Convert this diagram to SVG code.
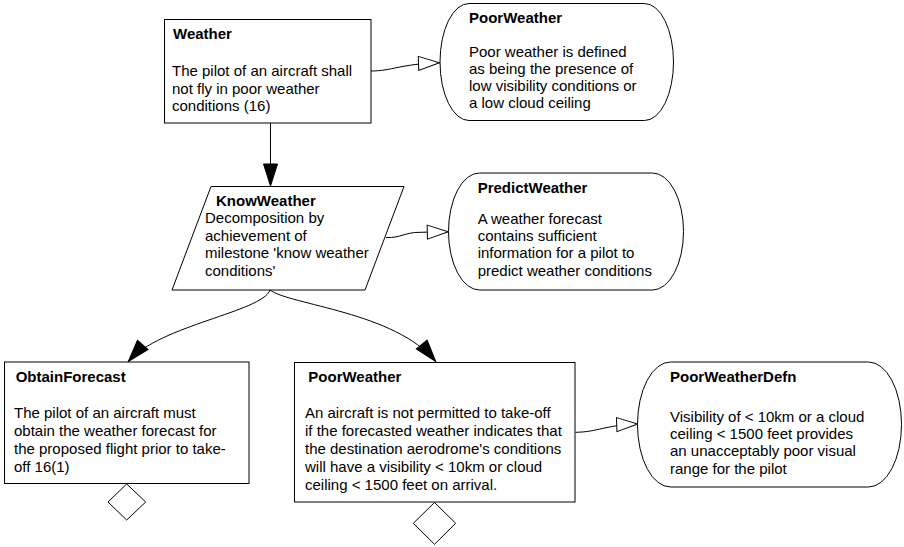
<svg xmlns="http://www.w3.org/2000/svg" width="904" height="547" viewBox="0 0 904 547">
  <style>
    .shape { fill: #ffffff; stroke: #000000; stroke-width: 1; }
    .edge { fill: none; stroke: #000000; stroke-width: 1; }
    text { font-family: "Liberation Sans", Arial, sans-serif; font-size: 15px; fill: #000000; }
    .title { font-weight: bold; }
  </style>
  <defs>
    <marker id="head-open" markerUnits="userSpaceOnUse" markerWidth="24" markerHeight="16" viewBox="0 0 24 16" refX="22" refY="8" orient="auto">
      <path d="M1,1 L22,8 L1,15 Z" fill="#ffffff" stroke="#000000" stroke-width="1"/>
    </marker>
    <marker id="head-solid" markerUnits="userSpaceOnUse" markerWidth="24" markerHeight="16" viewBox="0 0 24 16" refX="23" refY="8" orient="auto">
      <path d="M1,1 L23,8 L1,15 Z" fill="#000000" stroke="#000000" stroke-width="1"/>
    </marker>
  </defs>

  <rect width="904" height="547" fill="#ffffff"/>

  <!-- connectors -->
  <g id="connectors">
    <path class="edge" d="M371,71 C392,71 400,64 439.5,62.7" marker-end="url(#head-open)"/>
    <path class="edge" d="M270.5,123 L270.5,186" marker-end="url(#head-solid)"/>
    <path class="edge" d="M386,237.5 C402,238 404,232.3 420,232.3 L448.3,231.7" marker-end="url(#head-open)"/>
    <path class="edge" d="M270,290 C262,312 160,325 128.3,361.5" marker-end="url(#head-solid)"/>
    <path class="edge" d="M270,290 C290,305 395,312 435.7,361.5" marker-end="url(#head-solid)"/>
    <path class="edge" d="M575.5,432.3 C598,432 605,425 637.7,424" marker-end="url(#head-open)"/>
  </g>

  <!-- goal: Weather -->
  <g id="weather">
    <rect class="shape" x="164.5" y="19.5" width="206.5" height="103.5"/>
    <text class="title" x="173" y="39">Weather</text>
    <text x="172" y="76">The pilot of an aircraft shall</text>
    <text x="172" y="93.5">not fly in poor weather</text>
    <text x="172" y="111">conditions (16)</text>
  </g>

  <!-- context: PoorWeather -->
  <g id="poorweather-context">
    <rect class="shape" x="440" y="3.5" width="233.5" height="117" rx="29" ry="58.5"/>
    <text class="title" x="469" y="23">PoorWeather</text>
    <text x="469" y="56.7">Poor weather is defined</text>
    <text x="469" y="73.7">as being the presence of</text>
    <text x="469" y="90.7">low visibility conditions or</text>
    <text x="469" y="107.5">a low cloud ceiling</text>
  </g>

  <!-- strategy: KnowWeather -->
  <g id="knowweather">
    <polygon class="shape" points="211,186.5 404,186.5 365,290 172,290"/>
    <text class="title" x="216" y="206">KnowWeather</text>
    <text x="205" y="223.3">Decomposition by</text>
    <text x="205" y="240.8">achievement of</text>
    <text x="205" y="258.3">milestone 'know weather</text>
    <text x="205" y="276">conditions'</text>
  </g>

  <!-- assumption: PredictWeather -->
  <g id="predictweather">
    <rect class="shape" x="448.5" y="173" width="235" height="117" rx="31" ry="58.5"/>
    <text class="title" x="477.7" y="192.7">PredictWeather</text>
    <text x="477.7" y="224">A weather forecast</text>
    <text x="477.7" y="241">contains sufficient</text>
    <text x="477.7" y="258.4">information for a pilot to</text>
    <text x="477.7" y="276">predict weather conditions</text>
  </g>

  <!-- goal: ObtainForecast -->
  <g id="obtainforecast">
    <rect class="shape" x="4.5" y="362" width="244.5" height="121.5"/>
    <text class="title" x="15.7" y="381.7">ObtainForecast</text>
    <text x="14" y="417.7">The pilot of an aircraft must</text>
    <text x="14" y="435.7">obtain the weather forecast for</text>
    <text x="14" y="454">the proposed flight prior to take-</text>
    <text x="14" y="472.4">off 16(1)</text>
    <polygon class="shape" points="126.7,484 145.7,502 126.7,520 108,502"/>
  </g>

  <!-- goal: PoorWeather -->
  <g id="poorweather-goal">
    <rect class="shape" x="294.5" y="362.5" width="280.5" height="139.5"/>
    <text class="title" x="308.3" y="381.7">PoorWeather</text>
    <text x="305" y="418.3">An aircraft is not permitted to take-off</text>
    <text x="305" y="436">if the forecasted weather indicates that</text>
    <text x="305" y="454">the destination aerodrome's conditions</text>
    <text x="305" y="472">will have a visibility &lt; 10km or cloud</text>
    <text x="305" y="490">ceiling &lt; 1500 feet on arrival.</text>
    <polygon class="shape" points="434.5,502.5 455.7,523.3 434.5,544.3 413.3,523.3"/>
  </g>

  <!-- context: PoorWeatherDefn -->
  <g id="poorweatherdefn">
    <rect class="shape" x="637.5" y="362" width="264" height="125" rx="33" ry="62.5"/>
    <text class="title" x="670" y="381.7">PoorWeatherDefn</text>
    <text x="670" y="421.7">Visibility of &lt; 10km or a cloud</text>
    <text x="670" y="438.8">ceiling &lt; 1500 feet provides</text>
    <text x="670" y="456.4">an unacceptably poor visual</text>
    <text x="670" y="473.5">range for the pilot</text>
  </g>
</svg>
